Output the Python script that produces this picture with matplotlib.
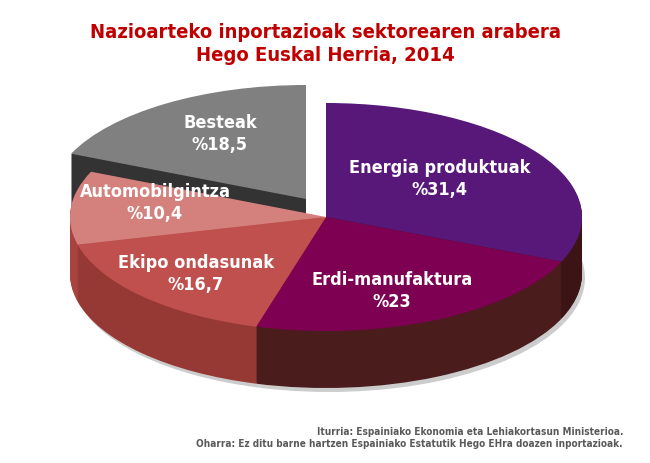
import matplotlib.pyplot as plt

sectors = ["Energia produktuak", "Erdi-manufaktura", "Ekipo ondasunak",
           "Automobilgintza", "Besteak"]
shares = [31.4, 23, 16.7, 10.4, 18.5]
share_labels = ["%31,4", "%23", "%16,7", "%10,4", "%18,5"]

title = "Nazioarteko inportazioak sektorearen arabera\nHego Euskal Herria, 2014"
source = ("Iturria: Espainiako Ekonomia eta Lehiakortasun Ministerioa.\n"
          "Oharra: Ez ditu barne hartzen Espainiako Estatutik Hego EHra doazen inportazioak.")

top_colors = ["#58187a", "#7e0052", "#c0504d", "#d4807c", "#808080"]
side_colors = ["#3c1416", "#4a1c1c", "#963935", "#a8433f", "#333333"]

W, H = 650, 464
cx, cy = 326, 218      # top face centre (px)
rx, ry = 256, 114      # top face radii (px)
depth = 57             # side height (px)
pull = (-20, -18)      # exploded "Besteak" offset (px)
label_xy = [(440, 179), (392, 291), (196, 274), (155, 203), (220, 134)]


def layer(ax, dx, dy, colors, keep):
    wedges, _ = ax.pie(shares, colors=colors, startangle=90, counterclock=False,
                       center=(dx / rx, -dy / ry), radius=1,
                       wedgeprops=dict(linewidth=0))
    for i, w in enumerate(wedges):
        if i not in keep:
            w.set_visible(False)


def main():
    fig = plt.figure(figsize=(W / 100, H / 100), dpi=100)
    ax = fig.add_axes([0, 0, 1, 1])

    main_idx = [0, 1, 2, 3]
    out_idx = [4]

    # soft shadow under the base
    layer(ax, 3, depth + 4, ["#cccccc"] * 5, main_idx)

    # exploded slice first (it sits behind)
    for k in range(depth, 0, -1):
        layer(ax, pull[0], pull[1] + k, side_colors, out_idx)
    layer(ax, pull[0], pull[1], top_colors, out_idx)

    # main body
    for k in range(depth, 0, -1):
        layer(ax, 0, k, side_colors, main_idx)
    layer(ax, 0, 0, top_colors, main_idx)

    ax.set_aspect("auto")
    ax.set_xlim(-cx / rx, (W - cx) / rx)
    ax.set_ylim(-(H - cy) / ry, cy / ry)
    ax.axis("off")

    txt = dict(fontweight="bold", family="DejaVu Sans", fontstretch="condensed")
    for name, pct, (x, y) in zip(sectors, share_labels, label_xy):
        fig.text(x / W, 1 - y / H, f"{name}\n{pct}", ha="center", va="center",
                 color="white", fontsize=13, linespacing=1.25, **txt)

    fig.text(0.5, 1 - 44 / H, title, ha="center", va="center", color="#c00000",
             fontsize=14.5, linespacing=1.3, **txt)
    fig.text(623 / W, 1 - 438 / H, source, ha="right", va="center",
             color="#595959", fontsize=7.2, multialignment="right",
             linespacing=1.2, **txt)

    fig.savefig("out.png", dpi=100, facecolor="white")


if __name__ == "__main__":
    main()
